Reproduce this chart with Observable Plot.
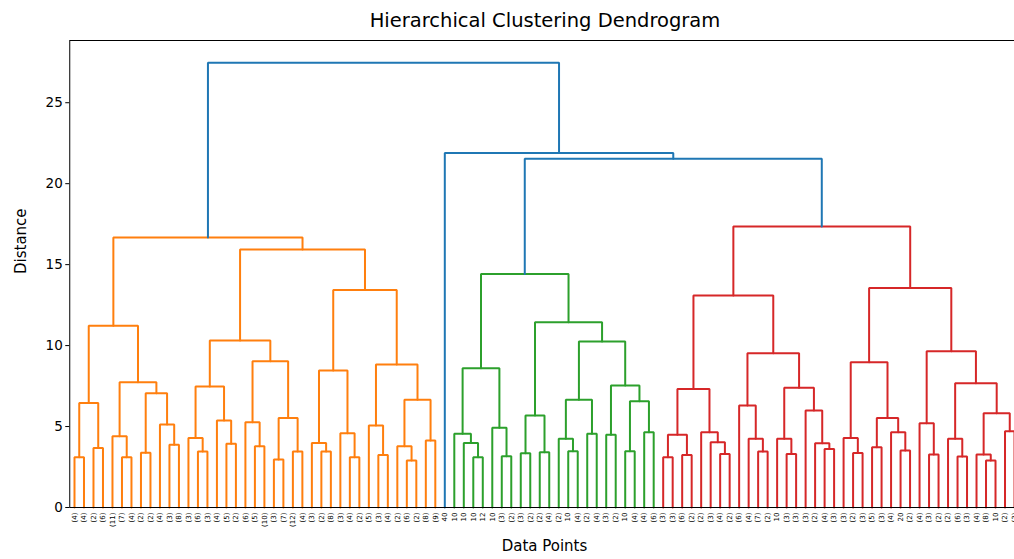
<!DOCTYPE html>
<html><head><meta charset="utf-8">
<script src="https://cdn.jsdelivr.net/npm/d3@7"></script>
<script src="https://cdn.jsdelivr.net/npm/@observablehq/plot@0.6"></script>
<style>
body{margin:0;background:#fff;overflow:hidden;font-family:"DejaVu Sans",sans-serif;}
#title{width:1014px;box-sizing:border-box;padding-left:76px;height:34px;padding-top:9px;line-height:24px;font-size:19.5px;text-align:center;color:#000;}
</style></head><body>
<div id="title">Hierarchical Clustering Dendrogram</div>
<div id="chart"></div>
<script>
// leaf labels (left to right)
const leafLabels = [
 "(4)","(4)","(2)","(6)","(11)","(7)","(4)","(2)","(2)","(4)","(3)","(8)","(3)","(6)","(3)","(4)","(5)","(2)","(6)","(5)",
 "(10)","(3)","(7)","(12)","(4)","(3)","(2)","(8)","(3)","(4)","(2)","(5)","(3)","(4)","(2)","(6)","(2)","(8)","(9)","40",
 "10","10","10","12","10","(3)","(2)","(3)","(2)","(2)","(4)","(2)","10","(4)","(2)","(4)","(3)","(2)","10","(4)",
 "(4)","(6)","(3)","(3)","(6)","(2)","(2)","(3)","(4)","(2)","(6)","(4)","(7)","(2)","10","(3)","(3)","(3)","(2)","(4)",
 "(3)","(3)","(2)","(3)","(5)","(3)","(4)","20","(2)","(4)","(3)","(2)","(2)","(6)","(3)","(4)","(8)","10","(2)","(3)"
];
// subtrees as [mergeDistance, left, right]; numbers are leaf positions
const orangeTree = [16.67,
  [11.23,
    [6.46, [3.10, 0, 1], [3.68, 2, 3]],
    [7.74, [4.40, 4, [3.10, 5, 6]], [7.06, [3.38, 7, 8], [5.12, 9, [3.87, 10, 11]]]]],
  [15.93,
    [10.31,
      [7.47, [4.30, 12, [3.46, 13, 14]], [5.37, 15, [3.93, 16, 17]]],
      [9.03, [5.27, 18, [3.78, 19, 20]], [5.53, [2.96, 21, 22], [3.46, 23, 24]]]],
    [13.44,
      [8.46, [3.99, 25, [3.46, 26, 27]], [4.59, 28, [3.10, 29, 30]]],
      [8.83, [5.06, 31, [3.25, 32, 33]], [6.65, [3.78, 34, [2.90, 35, 36]], [4.14, 37, 38]]]]]];
const greenTree = [14.42,
  [8.60, [4.55, 40, [3.99, 41, [3.10, 42, 43]]], [4.92, 44, [3.17, 45, 46]]],
  [11.44,
    [5.68, [3.35, 47, 48], [3.41, 49, 50]],
    [10.25,
      [6.65, [4.24, 51, [3.48, 52, 53]], [4.55, 54, 55]],
      [7.53, [4.50, 56, 57], [6.56, [3.48, 58, 59], [4.65, 60, 61]]]]]];
const redTree = [17.35,
  [13.09,
    [7.32, [4.50, [3.10, 62, 63], [3.25, 64, 65]], [4.65, 66, [4.03, 67, [3.31, 68, 69]]]],
    [9.53, [6.30, 70, [4.24, 71, [3.46, 72, 73]]],
           [7.39, [4.24, 74, [3.31, 75, 76]], [5.99, 77, [3.97, 78, [3.62, 79, 80]]]]]],
  [13.56,
    [8.97, [4.30, 81, [3.37, 82, 83]], [5.53, [3.72, 84, 85], [4.65, 86, [3.52, 87, 88]]]],
    [9.65, [5.20, 89, [3.27, 90, 91]],
           [7.67, [4.24, 92, [3.15, 93, 94]], [5.82, [3.27, 95, [2.90, 96, 97]], [4.71, 98, 99]]]]]];
const topTree = [27.47, orangeTree, [21.90, 39, [21.54, greenTree, redTree]]];

const clusterFirst = [0, 40, 62];
const clusterLast = [38, 61, 99];
const clusterColors = ["#ff7f0e", "#2ca02c", "#d62728"];
const aboveColor = "#1f77b4";
const yTicks = [0, 5, 10, 15, 20, 25];

// build U-shaped link rows
const rows = [];
let nid = 0;
function walk(node) {
  if (typeof node === "number") return {x: 5 + 10 * node, h: 0, lo: node, hi: node};
  const [h, l, r] = node;
  const a = walk(l), b = walk(r);
  const lo = Math.min(a.lo, b.lo), hi = Math.max(a.hi, b.hi);
  let color = aboveColor;
  for (let k = 0; k < clusterFirst.length; k++)
    if (lo >= clusterFirst[k] && hi <= clusterLast[k]) color = clusterColors[k];
  const id = nid++;
  rows.push({id, x: a.x, y: a.h, color}, {id, x: a.x, y: h, color},
            {id, x: b.x, y: h, color}, {id, x: b.x, y: b.h, color});
  return {x: (a.x + b.x) / 2, h, lo, hi};
}
walk(topTree);
const maxH = topTree[0];
const leafPos = leafLabels.map((_, i) => 5 + 10 * i);

const chart = Plot.plot({
  width: 1014, height: 525,
  marginLeft: 69.25, marginRight: -4.75, marginTop: 6, marginBottom: 52,
  x: {domain: [0, 10 * leafLabels.length]},
  y: {domain: [0, maxH * 1.05]},
  color: {type: "identity"},
  style: {fontFamily: "DejaVu Sans", color: "#000", background: "#fff"},
  marks: [
    Plot.line(rows, {x: "x", y: "y", z: "id", stroke: "color", strokeWidth: 2, strokeLinejoin: "miter", curve: "linear"}),
    Plot.frame({stroke: "#000", strokeWidth: 1}),
    Plot.axisY({ticks: yTicks, tickSize: 4, tickPadding: 3, fontSize: 13.5, label: null}),
    Plot.axisX({ticks: leafPos, tickFormat: d => leafLabels[(d - 5) / 10], tickRotate: -90, tickSize: 0, tickPadding: 5, fontSize: 7, label: null}),
    Plot.text(["Data Points"], {frameAnchor: "bottom", dy: 43, fontSize: 15, text: d => d}),
    Plot.text(["Distance"], {frameAnchor: "left", dx: -49, rotate: -90, fontSize: 15, text: d => d})
  ]
});
document.getElementById("chart").appendChild(chart);
</script></body></html>
